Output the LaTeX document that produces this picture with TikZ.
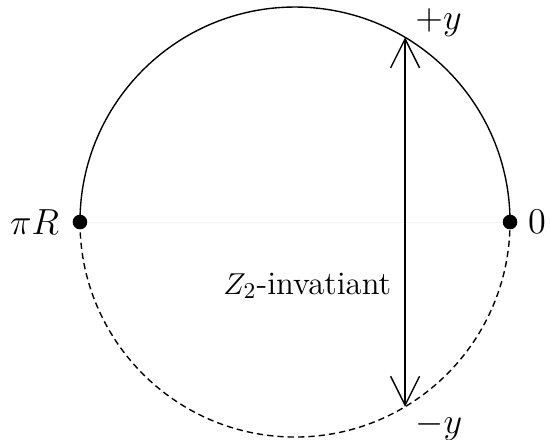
\documentclass[tikz,border=0pt]{standalone}
\usepackage{amsmath}
\usepackage{tikz}
\usetikzlibrary{arrows.meta, positioning}
\definecolor{myfaint}{RGB}{242,242,242}
\tikzset{
  fixpt/.style={circle, fill=black, inner sep=0pt, minimum size=5.8pt},
  ptlbl/.style={font=\fontsize{14.6}{17}\selectfont},
  barb/.style={{Straight Barb[length=11.5pt, width=11.5pt]}-{Straight Barb[length=11.5pt, width=11.5pt]}, line width=0.55pt}
}
\begin{document}
\begin{tikzpicture}[every node/.style={font=\fontsize{13}{16}\selectfont}]
  \useasboundingbox (-4.116,-3.028) rectangle (3.558,3.098);
  % orbifold circle
  \draw[line width=0.55pt] (0:3) arc (0:180:3);
  \draw[dash pattern=on 2.5pt off 1.6pt, line width=0.55pt] (180:3) arc (180:360:3);

  % fixed points
  \node[fixpt] (piR) at (180:3) {};
  \node[fixpt] (zero) at (0:3) {};
  \draw[myfaint, line width=0.3pt] (piR) -- (zero);
  \node[ptlbl, left=0.06cm of piR] (piRlbl) {$\pi R$};
  \node[ptlbl, right=0.02cm of zero] (zerolbl) {$0$};

  % parity pair
  \coordinate (up) at (59.2:3);
  \coordinate (dn) at (-59.2:3);
  \node[ptlbl, above right=-0.12cm and 0.02cm of up] (uplbl) {$+y$};
  \node[ptlbl, below right=-0.05cm and 0.02cm of dn] (dnlbl) {$-y$};
  \draw[barb] (dn) -- (up);

  \node[left=0.07cm of dn, yshift=1.69cm] (inv) {$Z_2$-invatiant};
\end{tikzpicture}
\end{document}
